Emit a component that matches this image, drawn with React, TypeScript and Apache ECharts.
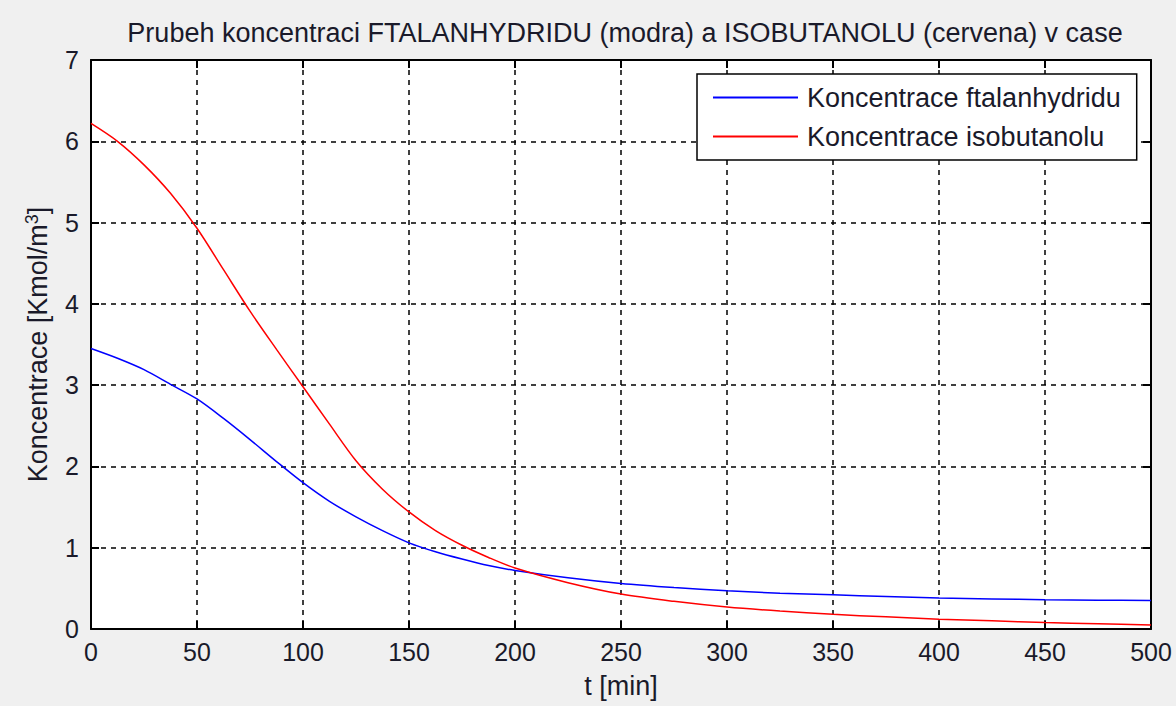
import React, { useEffect, useRef } from "react";
import * as echarts from "echarts";

const tValues = [0, 12.5, 25, 37.5, 50, 62.5, 75, 87.5, 100, 112.5, 125, 137.5, 150, 162.5, 175, 187.5, 200, 225, 250, 275, 300, 325, 350, 375, 400, 425, 450, 475, 500];
const ftalanhydrid = [3.45, 3.33, 3.19, 3.01, 2.83, 2.59, 2.33, 2.06, 1.8, 1.57, 1.38, 1.21, 1.06, 0.95, 0.86, 0.78, 0.72, 0.63, 0.56, 0.51, 0.47, 0.44, 0.42, 0.4, 0.38, 0.37, 0.36, 0.355, 0.35];
const isobutanol = [6.22, 6.0, 5.71, 5.36, 4.93, 4.42, 3.91, 3.44, 2.98, 2.52, 2.07, 1.72, 1.44, 1.21, 1.03, 0.88, 0.75, 0.57, 0.43, 0.34, 0.27, 0.22, 0.18, 0.15, 0.12, 0.1, 0.08, 0.065, 0.05];
const seriesNames = ["Koncentrace ftalanhydridu", "Koncentrace isobutanolu"];
const titleText = "Prubeh koncentraci FTALANHYDRIDU (modra) a ISOBUTANOLU (cervena) v case";
const xName = "t [min]";
const yName = "Koncentrace [Kmol/m{sup|3}]";

const FONT = "Liberation Sans, Arial, sans-serif";
const TXT = "#1a1a2a";

export default function App() {
  const ref = useRef<HTMLDivElement>(null);
  useEffect(() => {
    if (!ref.current) return;
    const chart = echarts.init(ref.current, undefined, { renderer: "svg" });
    const gridLine = { show: true, lineStyle: { color: "#000", type: [5, 5] as any, width: 1.5 } };
    const axisLine = { show: true, onZero: false, lineStyle: { color: "#000", width: 2 } };
    const tick = { show: true, inside: true, length: 8, lineStyle: { color: "#000", width: 2 } };
    chart.setOption({
      animation: false,
      backgroundColor: "#f0f0f0",
      title: {
        text: titleText,
        left: 620,
        textAlign: "center",
        top: 14,
        textStyle: { fontFamily: FONT, fontSize: 27, fontWeight: "normal", color: TXT },
      },
      grid: { left: 91, top: 60, width: 1060, height: 569, show: true, backgroundColor: "#fff", borderColor: "#000", borderWidth: 0 },
      legend: {
        left: 697,
        top: 74,
        width: 442,
        orient: "vertical",
        backgroundColor: "#fff",
        borderColor: "#000",
        borderWidth: 1.5,
        borderRadius: 0,
        padding: [10, 16, 10, 16],
        itemGap: 12,
        icon: "rect",
        itemWidth: 85,
        itemHeight: 2,
        textStyle: { fontFamily: FONT, fontSize: 27, color: TXT, padding: [0, 0, 0, 4] },
        data: seriesNames,
      },
      xAxis: [
        {
          type: "value",
          min: 0,
          max: 500,
          interval: 50,
          name: xName,
          nameLocation: "middle",
          nameGap: 43,
          nameTextStyle: { fontFamily: FONT, fontSize: 27, color: TXT },
          axisLine,
          axisTick: tick,
          splitLine: gridLine,
          axisLabel: { fontFamily: FONT, fontSize: 25, color: TXT, margin: 10 },
        },
        {
          type: "value",
          position: "top",
          min: 0,
          max: 500,
          interval: 50,
          axisLine,
          axisTick: tick,
          splitLine: { show: false },
          axisLabel: { show: false },
        },
      ],
      yAxis: [
        {
          type: "value",
          min: 0,
          max: 7,
          interval: 1,
          name: yName,
          nameLocation: "middle",
          nameGap: 38,
          nameTextStyle: {
            fontFamily: FONT,
            fontSize: 27,
            color: TXT,
            rich: { sup: { fontFamily: FONT, fontSize: 18, color: TXT, verticalAlign: "top", padding: [0, 0, 12, 0] } },
          },
          axisLine,
          axisTick: tick,
          splitLine: gridLine,
          axisLabel: { fontFamily: FONT, fontSize: 25, color: TXT, margin: 12 },
        },
        {
          type: "value",
          position: "right",
          min: 0,
          max: 7,
          interval: 1,
          axisLine,
          axisTick: tick,
          splitLine: { show: false },
          axisLabel: { show: false },
        },
      ],
      series: [
        {
          name: seriesNames[0],
          type: "line",
          data: tValues.map((t, i) => [t, ftalanhydrid[i]]),
          showSymbol: false,
          smooth: 0.3,
          lineStyle: { color: "#0000ff", width: 1.5 },
          itemStyle: { color: "#0000ff" },
        },
        {
          name: seriesNames[1],
          type: "line",
          data: tValues.map((t, i) => [t, isobutanol[i]]),
          showSymbol: false,
          smooth: 0.3,
          lineStyle: { color: "#ff0000", width: 1.5 },
          itemStyle: { color: "#ff0000" },
        },
      ],
    });
    return () => chart.dispose();
  }, []);
  return (
    <div
      ref={ref}
      style={{ position: "fixed", left: 0, top: 0, width: 1176, height: 706, background: "#f0f0f0" }}
    />
  );
}
